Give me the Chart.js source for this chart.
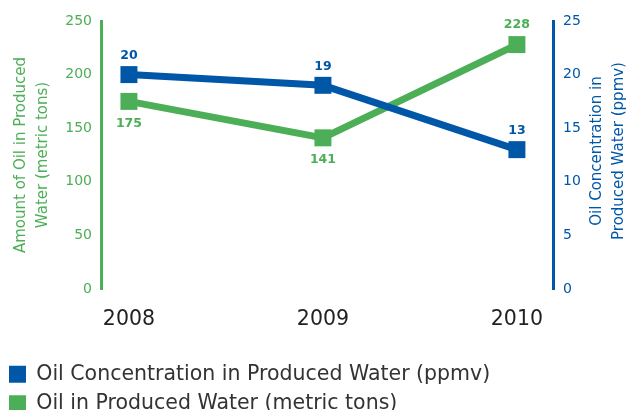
<!DOCTYPE html>
<html><head><meta charset="utf-8">
<script src="https://cdn.jsdelivr.net/npm/chart.js@4.4.1/dist/chart.umd.min.js"></script>
<style>html,body{margin:0;padding:0;background:#fff;overflow:hidden}#wrap{width:637px;height:410px;position:relative}</style>
</head><body><div id="wrap"><canvas id="c" width="637" height="410"></canvas></div>
<script>
const years = ['2008', '2009', '2010'];
const concentration = [20, 19, 13];
const amount = [175, 141, 228];
const leftTicks = [0, 50, 100, 150, 200, 250];
const rightTicks = [0, 5, 10, 15, 20, 25];
const seriesNames = ['Oil Concentration in Produced Water (ppmv)', 'Oil in Produced Water (metric tons)'];
const leftTitle = ['Amount of Oil in Produced', 'Water (metric tons)'];
const rightTitle = ['Oil Concentration in', 'Produced Water (ppmv)'];

const BLUE = '#0057a8';
const GREEN = '#4cae56';
const FONT = "'DejaVu Sans', sans-serif";

const labelPlugin = {
  id: 'valueLabels',
  afterDatasetsDraw(chart) {
    const ctx = chart.ctx;
    const mBlue = chart.getDatasetMeta(0);
    const mGreen = chart.getDatasetMeta(1);
    ctx.save();
    ctx.font = "bold 12.5px " + FONT;
    ctx.textAlign = 'center';
    ctx.textBaseline = 'middle';
    mBlue.data.forEach((p, i) => {
      ctx.fillStyle = BLUE;
      ctx.fillText(String(concentration[i]), p.x, p.y - 19);
    });
    mGreen.data.forEach((p, i) => {
      ctx.fillStyle = GREEN;
      const below = p.y > mBlue.data[i].y;
      ctx.fillText(String(amount[i]), p.x, below ? p.y + 22 : p.y - 20);
    });
    ctx.restore();
  }
};

const rightTitlePlugin = {
  id: 'rightTitle',
  afterDraw(chart) {
    const s = chart.scales.y1;
    const t = s.options.title.text;
    const ctx = chart.ctx;
    ctx.save();
    ctx.font = "15px " + FONT;
    ctx.fillStyle = BLUE;
    ctx.textAlign = 'center';
    ctx.textBaseline = 'middle';
    const cy = (chart.chartArea.top + chart.chartArea.bottom) / 2 - 4;
    const x0 = s.right - 40;
    t.forEach((line, k) => {
      ctx.save();
      ctx.translate(x0 + k * 22, cy);
      ctx.rotate(-Math.PI / 2);
      ctx.fillText(line, 0, 0);
      ctx.restore();
    });
    ctx.restore();
  }
};

new Chart(document.getElementById('c'), {
  type: 'line',
  data: {
    datasets: [
      {
        label: seriesNames[0],
        data: years.map((y, i) => ({x: Number(y), y: concentration[i]})),
        yAxisID: 'y1',
        borderColor: BLUE,
        backgroundColor: BLUE,
        borderWidth: 7,
        pointStyle: 'rect',
        pointRadius: 12,
        pointHoverRadius: 12,
        pointBorderWidth: 0,
        pointBackgroundColor: BLUE,
        tension: 0,
        fill: false
      },
      {
        label: seriesNames[1],
        data: years.map((y, i) => ({x: Number(y), y: amount[i]})),
        yAxisID: 'y',
        borderColor: GREEN,
        backgroundColor: GREEN,
        borderWidth: 7,
        pointStyle: 'rect',
        pointRadius: 12,
        pointHoverRadius: 12,
        pointBorderWidth: 0,
        pointBackgroundColor: GREEN,
        tension: 0,
        fill: false
      }
    ]
  },
  options: {
    responsive: false,
    animation: false,
    devicePixelRatio: 1,
    layout: {padding: {left: 0, right: 0, top: 21, bottom: -14}},
    plugins: {
      tooltip: {enabled: false},
      legend: {
        display: true,
        position: 'bottom',
        align: 'start',
        labels: {
          boxWidth: 17,
          boxHeight: 17,
          padding: 9,
          color: '#333333',
          font: {family: FONT, size: 20.5},
          generateLabels(chart) {
            return chart.data.datasets.map((ds, i) => ({
              text: ds.label,
              fillStyle: ds.borderColor,
              strokeStyle: ds.borderColor,
              lineWidth: 0,
              hidden: false,
              datasetIndex: i,
              fontColor: '#333333'
            }));
          }
        }
      }
    },
    scales: {
      x: {
        type: 'linear',
        min: 2007.856,
        max: 2010.186,
        afterBuildTicks(s) { s.ticks = years.map(y => ({value: Number(y)})); },
        afterFit(s) { s.height = 66; },
        ticks: {
          color: '#231f20',
          font: {family: FONT, size: 20.5},
          padding: 18,
          callback: v => String(v)
        },
        grid: {display: false, drawTicks: false},
        border: {display: false}
      },
      y: {
        position: 'left',
        min: 0,
        max: 250,
        afterBuildTicks(s) { s.ticks = leftTicks.map(v => ({value: v})); },
        afterFit(s) { s.width = 101; },
        ticks: {color: GREEN, font: {family: FONT, size: 14}, padding: 9},
        grid: {display: false, drawTicks: false},
        border: {display: true, color: GREEN, width: 3},
        title: {
          display: true,
          text: leftTitle,
          color: GREEN,
          font: {family: FONT, size: 15, lineHeight: 1.45},
          padding: {top: 10, bottom: 0}
        }
      },
      y1: {
        position: 'right',
        min: 0,
        max: 25,
        afterBuildTicks(s) { s.ticks = rightTicks.map(v => ({value: v})); },
        afterFit(s) { s.width = 84; },
        ticks: {color: BLUE, font: {family: FONT, size: 14}, padding: 10},
        grid: {display: false, drawTicks: false},
        border: {display: true, color: BLUE, width: 3},
        title: {display: false, text: rightTitle}
      }
    }
  },
  plugins: [labelPlugin, rightTitlePlugin]
});
</script>
</body></html>
